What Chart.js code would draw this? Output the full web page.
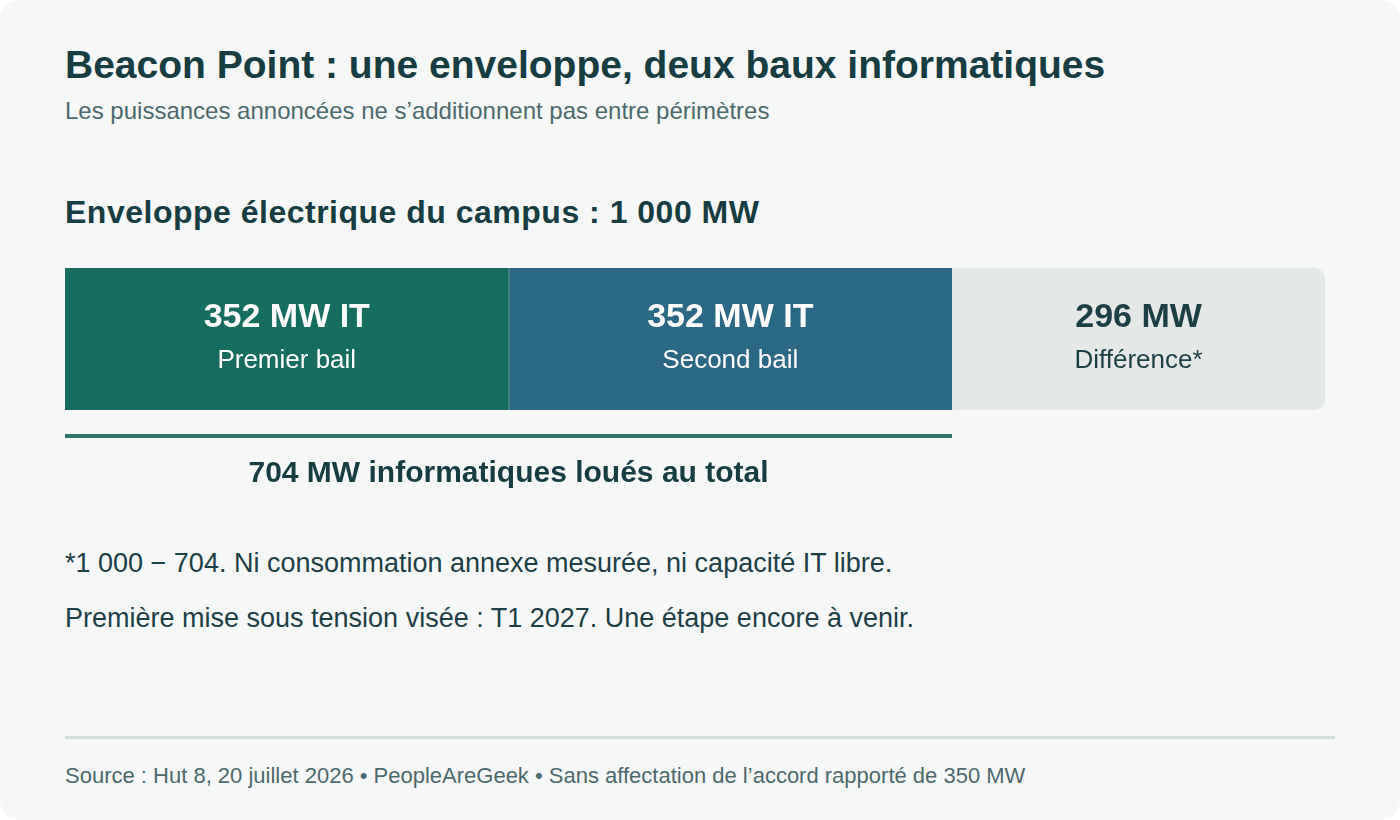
<!DOCTYPE html>
<html lang="fr">
<head>
<meta charset="utf-8">
<script src="https://cdn.jsdelivr.net/npm/chart.js@4.4.1/dist/chart.umd.min.js"></script>
<style>
  html, body { margin: 0; padding: 0; background: #ffffff; }
  body { width: 1400px; height: 820px; position: relative; overflow: hidden; font-family: "Liberation Sans", Arial, Helvetica, sans-serif; }
  .card { position: absolute; left: 0; top: 0; width: 1400px; height: 820px; background: #f6f8f8; border-radius: 20px; }
  .t { position: absolute; left: 65px; line-height: 1; white-space: nowrap; }
  #title { top: 45px; font-size: 39px; font-weight: bold; color: #163d41; }
  #subtitle { top: 99px; font-size: 24px; color: #4d6a6d; }
  #heading { top: 196px; font-size: 32px; letter-spacing: 0.5px; font-weight: bold; color: #163d41; }
  #note1 { top: 550px; font-size: 27px; color: #1d4046; }
  #note2 { top: 605px; font-size: 27px; color: #1d4046; }
  #rule { position: absolute; left: 65px; top: 736px; width: 1270px; height: 3px; background: #cfdfdf; }
  #source { top: 765px; font-size: 22px; color: #4d6a6d; }
  #wrap { position: absolute; left: 65px; top: 268px; width: 1260px; height: 230px; }
</style>
</head>
<body>
<div class="card"></div>
<div class="t" id="title">Beacon Point : une enveloppe, deux baux informatiques</div>
<div class="t" id="subtitle">Les puissances annoncées ne s’additionnent pas entre périmètres</div>
<div class="t" id="heading">Enveloppe électrique du campus : 1 000 MW</div>
<div id="wrap"><canvas id="c" width="1260" height="230"></canvas></div>
<div class="t" id="note1">*1 000 − 704. Ni consommation annexe mesurée, ni capacité IT libre.</div>
<div class="t" id="note2">Première mise sous tension visée : T1 2027. Une étape encore à venir.</div>
<div id="rule"></div>
<div class="t" id="source">Source : Hut 8, 20 juillet 2026 • PeopleAreGeek • Sans affectation de l’accord rapporté de 350 MW</div>

<script>
// ---- Data ----
const categories = ["Enveloppe électrique du campus"];
const segmentNames = ["Premier bail", "Second bail", "Différence*"];
const segmentValues = [352, 352, 296];
const segmentUnits = ["MW IT", "MW IT", "MW"];
const envelopeTotal = 1000;
const leasedTotalLabel = "704 MW informatiques loués au total";
const leasedSegments = 2; // first two segments are leased

// ---- Styles ----
const segmentColors = ["#166c5f", "#2b6886", "#e4e8e7"];
const segmentTextColors = ["#ffffff", "#ffffff", "#1c3f45"];
const fontFamily = '"Liberation Sans", Arial, Helvetica, sans-serif';

const datasets = segmentValues.map((v, i) => ({
  label: segmentNames[i],
  data: [v],
  backgroundColor: segmentColors[i],
  borderColor: i === 1 ? "rgba(255,255,255,0.28)" : segmentColors[i],
  borderWidth: i === 1 ? { left: 1, top: 0, right: 0, bottom: 0 } : 0,
  borderSkipped: false,
  borderRadius: i === segmentValues.length - 1
    ? { topLeft: 0, bottomLeft: 0, topRight: 12, bottomRight: 12 }
    : 0,
  barPercentage: 1,
  categoryPercentage: 1
}));

const labelPlugin = {
  id: "segmentLabels",
  afterDatasetsDraw(chart) {
    const ctx = chart.ctx;
    const area = chart.chartArea;
    const xs = chart.scales.x;
    const cy = (area.top + area.bottom) / 2;
    ctx.save();
    ctx.textAlign = "center";
    ctx.textBaseline = "alphabetic";
    let start = 0;
    segmentValues.forEach((v, i) => {
      const x0 = xs.getPixelForValue(start);
      const x1 = xs.getPixelForValue(start + v);
      const mx = (x0 + x1) / 2;
      ctx.fillStyle = segmentTextColors[i];
      ctx.font = "bold 34px " + fontFamily;
      ctx.fillText(v + " " + segmentUnits[i], mx, cy - 11.7);
      ctx.font = "26px " + fontFamily;
      ctx.fillText(segmentNames[i], mx, cy + 29.3);
      start += v;
    });
    // bracket under leased segments
    let leased = 0;
    for (let i = 0; i < leasedSegments; i++) leased += segmentValues[i];
    const bx0 = xs.getPixelForValue(0);
    const bx1 = xs.getPixelForValue(leased);
    ctx.fillStyle = "#2e776b";
    ctx.fillRect(bx0, area.bottom + 24, bx1 - bx0, 4);
    ctx.fillStyle = "#163d41";
    ctx.font = "bold 30px " + fontFamily;
    ctx.fillText(leasedTotalLabel, (bx0 + bx1) / 2, area.bottom + 72.3);
    ctx.restore();
  }
};

new Chart(document.getElementById("c"), {
  type: "bar",
  data: { labels: categories, datasets },
  options: {
    indexAxis: "y",
    responsive: false,
    animation: false,
    devicePixelRatio: 1,
    layout: { padding: { left: 0, right: 0, top: 0, bottom: 88 } },
    scales: {
      x: { stacked: true, min: 0, max: envelopeTotal, display: false },
      y: { stacked: true, display: false }
    },
    plugins: { legend: { display: false }, tooltip: { enabled: false }, title: { display: false } }
  },
  plugins: [labelPlugin]
});
</script>
</body>
</html>
